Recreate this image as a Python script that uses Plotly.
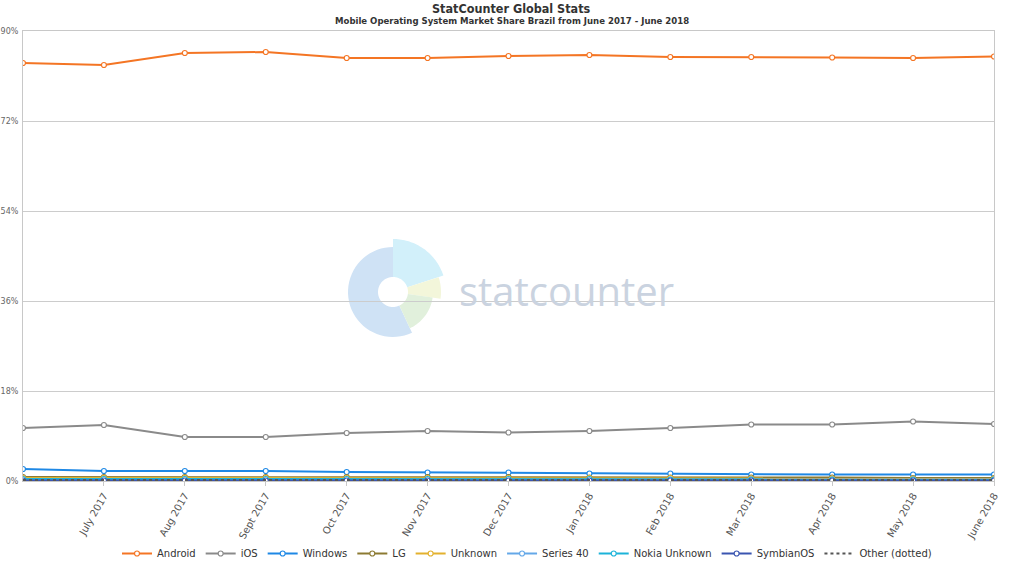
import math
import plotly.graph_objects as go

months = ["June 2017", "July 2017", "Aug 2017", "Sept 2017", "Oct 2017", "Nov 2017",
          "Dec 2017", "Jan 2018", "Feb 2018", "Mar 2018", "Apr 2018", "May 2018", "June 2018"]
tick_labels = months[1:]

android = [83.6, 83.2, 85.6, 85.8, 84.6, 84.6, 85.0, 85.2, 84.8, 84.8, 84.7, 84.6, 84.9]
ios = [10.6, 11.2, 8.8, 8.8, 9.6, 10.0, 9.7, 10.0, 10.6, 11.3, 11.3, 11.9, 11.4]
windows = [2.4, 2.0, 2.0, 2.0, 1.8, 1.7, 1.7, 1.5, 1.5, 1.3, 1.3, 1.3, 1.3]
lg = [0.8, 0.8, 0.8, 0.8, 0.8, 0.8, 0.8, 0.7, 0.7, 0.7, 0.7, 0.6, 0.6]
unknown = [0.6, 0.6, 0.6, 0.6, 0.6, 0.6, 0.6, 0.6, 0.6, 0.5, 0.5, 0.5, 0.5]
series40 = [0.3, 0.3, 0.3, 0.3, 0.3, 0.3, 0.3, 0.3, 0.3, 0.3, 0.3, 0.3, 0.3]
nokia_unknown = [0.4, 0.4, 0.4, 0.4, 0.4, 0.4, 0.4, 0.4, 0.3, 0.3, 0.3, 0.3, 0.3]
symbian = [0.1, 0.1, 0.1, 0.1, 0.1, 0.1, 0.1, 0.1, 0.1, 0.1, 0.1, 0.1, 0.1]
other = [0.2, 0.2, 0.2, 0.2, 0.2, 0.2, 0.2, 0.2, 0.2, 0.2, 0.2, 0.2, 0.2]

series = [
    ("Android", android, "#f47524"),
    ("iOS", ios, "#8a8a8a"),
    ("Windows", windows, "#1e88e5"),
    ("LG", lg, "#8c7a32"),
    ("Unknown", unknown, "#e3b12e"),
    ("Series 40", series40, "#64a8e8"),
    ("Nokia Unknown", nokia_unknown, "#1cb3d9"),
    ("SymbianOS", symbian, "#3a55b0"),
]

fig = go.Figure()
for name, vals, col in series:
    fig.add_trace(go.Scatter(
        x=months, y=vals, name=name, mode="lines+markers",
        line=dict(color=col, width=2),
        marker=dict(symbol="circle", size=5, color="white", line=dict(color=col, width=1.2)),
    ))
fig.add_trace(go.Scatter(
    x=months, y=other, name="Other (dotted)", mode="lines",
    line=dict(color="#555555", width=2, dash="dot"),
))

# watermark logo (decorative)
cx, cy = 393, 292
W, H = 1024, 576
L, R, T, B = 23, 30, 31, 95
pw, ph = W - L - R, H - T - B


def to_paper(px, py):
    return (px - L) / pw, (H - B - py) / ph


def sector(r_in, r_out, a0, a1, n=40):
    pts = []
    for i in range(n + 1):
        a = math.radians(a0 + (a1 - a0) * i / n)
        pts.append(to_paper(cx + r_out * math.cos(a), cy - r_out * math.sin(a)))
    for i in range(n + 1):
        a = math.radians(a1 + (a0 - a1) * i / n)
        pts.append(to_paper(cx + r_in * math.cos(a), cy - r_in * math.sin(a)))
    return "M " + " L ".join(f"{x:.5f},{y:.5f}" for x, y in pts) + " Z"


logo = [
    (45, 90, 295, "#cfe2f5"),
    (53, 18, 90, "#d2f0fa"),
    (48, -8, 18, "#f3f6da"),
    (40, -65, -8, "#e1f0dc"),
]
for r, a0, a1, col in logo:
    fig.add_shape(type="path", xref="paper", yref="paper", path=sector(15, r, a0, a1),
                  fillcolor=col, line=dict(width=0), layer="below")

fig.add_annotation(text="statcounter", xref="paper", yref="paper",
                   x=(566 - L) / pw, y=(H - B - 290) / ph, showarrow=False,
                   font=dict(family="Open Sans", size=40, color="#cad3e0"),
                   xanchor="center", yanchor="middle")

fig.update_layout(
    width=W, height=H,
    margin=dict(l=L, r=R, t=T, b=B, autoexpand=False),
    paper_bgcolor="white", plot_bgcolor="white",
    font=dict(family="DejaVu Sans", color="#333333"),
    showlegend=True,
    legend=dict(orientation="h", x=(527 - L) / pw, xanchor="center", y=(H - B - 539) / ph, yanchor="top",
                font=dict(size=10, color="#333333"), itemwidth=30, tracegroupgap=0,
                entrywidth=0),
)
fig.add_annotation(text="<b>StatCounter Global Stats</b>", xref="paper", yref="paper",
                   x=(512 - L) / pw, y=1, yshift=23, showarrow=False,
                   font=dict(family="DejaVu Sans Condensed", size=12.5, color="#333333"),
                   xanchor="center", yanchor="middle")
fig.add_annotation(text="<b>Mobile Operating System Market Share Brazil from June 2017 - June 2018</b>",
                   xref="paper", yref="paper", x=(512 - L) / pw, y=1, yshift=11, showarrow=False,
                   font=dict(family="DejaVu Sans Condensed", size=9.5, color="#333333"),
                   xanchor="center", yanchor="middle")

fig.update_xaxes(type="category", range=[0, 12], tickmode="array", tickvals=tick_labels,
                 ticktext=tick_labels, tickangle=-60, tickfont=dict(size=10, color="#555555"),
                 showgrid=False, showline=True, linecolor="#c8c8c8", mirror=True,
                 ticks="outside", ticklen=4, tickcolor="#c8c8c8", zeroline=False,
                 automargin=False)
fig.update_yaxes(range=[0, 90], dtick=18, ticksuffix="%", tickfont=dict(size=8, color="#666666"),
                 showgrid=True, gridcolor="#cccccc", showline=True, linecolor="#c8c8c8",
                 mirror=True, zeroline=False, ticklabelstandoff=2, automargin=False)

fig.write_html("out.html", config={"displayModeBar": False},
               post_script="document.body.style.margin='0';")
